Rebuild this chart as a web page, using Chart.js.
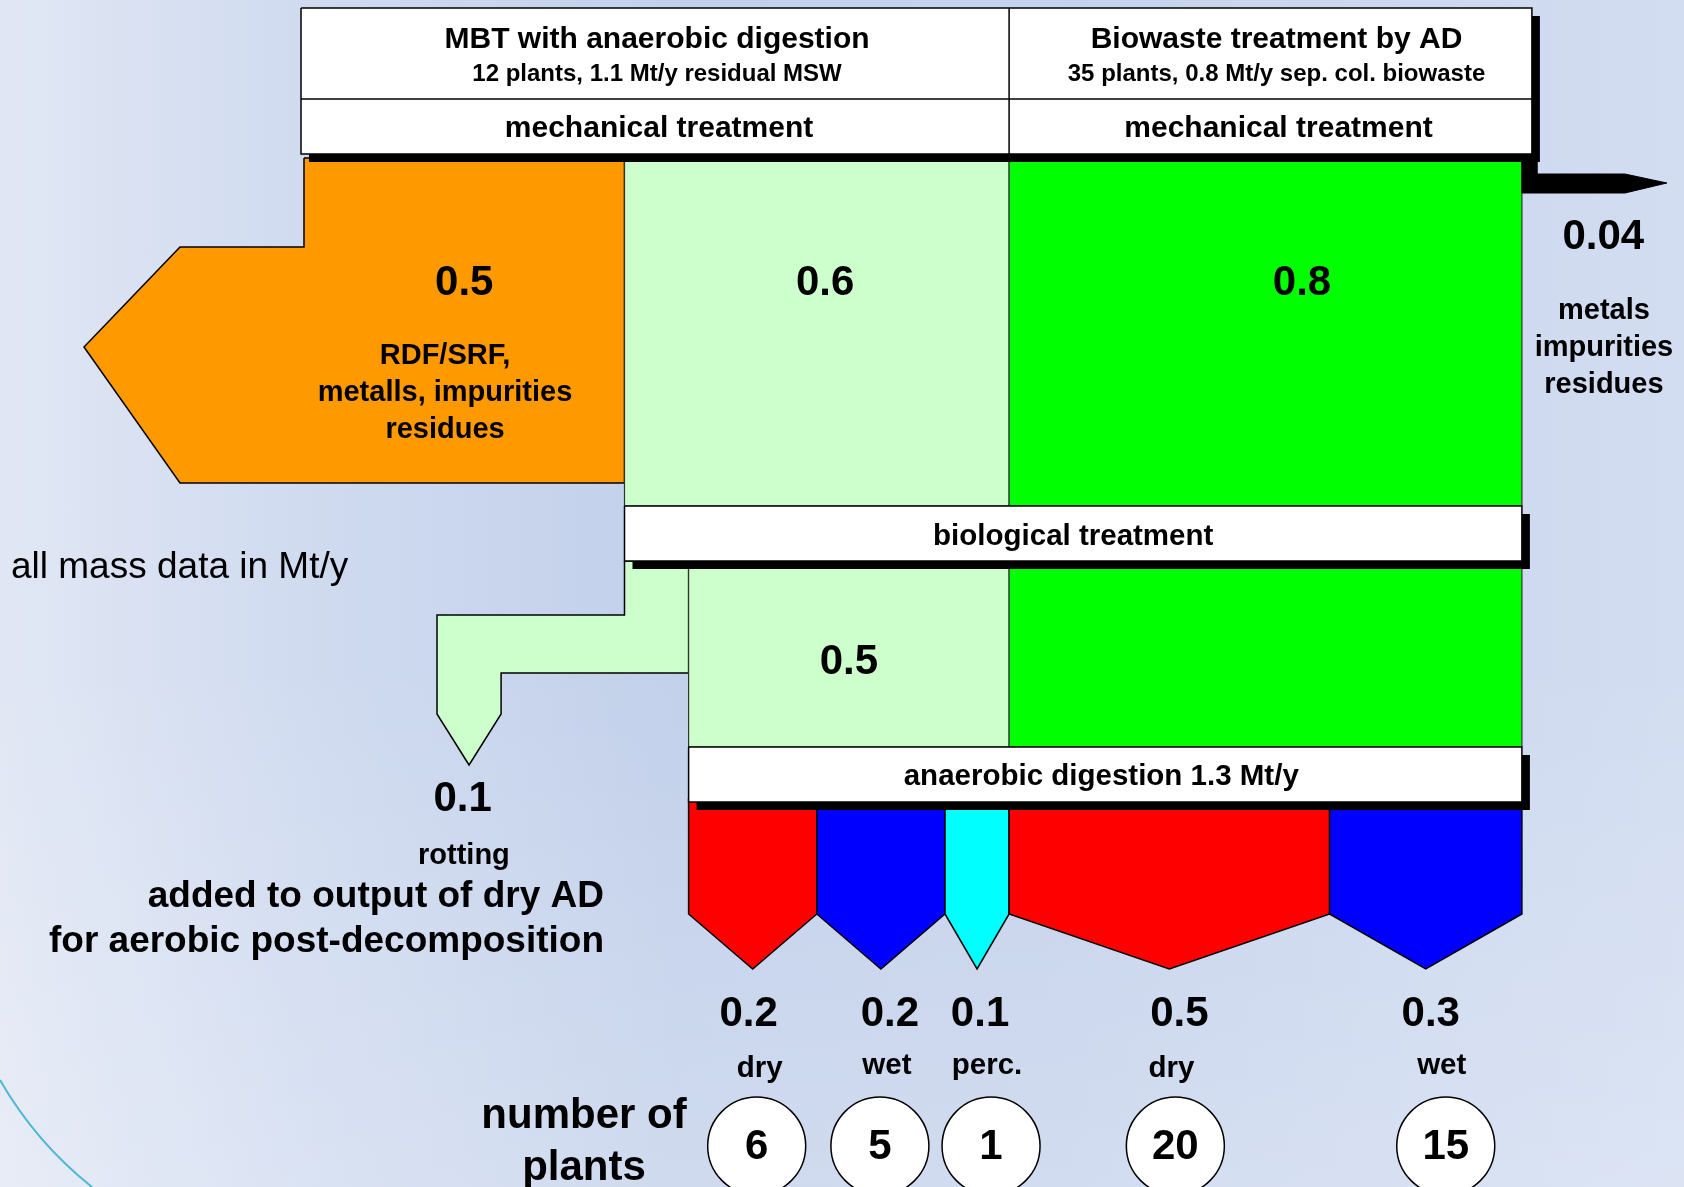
<!DOCTYPE html>
<html>
<head>
<meta charset="utf-8">
<script src="https://cdn.jsdelivr.net/npm/chart.js@4.4.1/dist/chart.umd.min.js"></script>
<style>
  html, body { margin: 0; padding: 0; width: 1684px; height: 1187px; overflow: hidden; }
  body {
    background:
      linear-gradient(180deg, rgba(255,255,255,0) 55%, rgba(255,255,255,0.22) 100%),
      linear-gradient(90deg, #e1e7f4 0%, #d0dbf0 18%, #c2d0ea 40%, #c5d2ec 62%, #d2ddf1 100%);
  }
  #arc { position: absolute; left: 0; top: 0; }
  #chart { position: absolute; left: 0; top: 0; }
</style>
</head>
<body>
<svg id="arc" width="1684" height="1187">
  <path d="M0,1080 A376,376 0 0,0 92,1187" stroke="#4cb8d5" stroke-width="2" fill="none"/>
</svg>
<canvas id="chart" width="1684" height="1187"></canvas>
<script>
// all mass data in Mt/y
const columnTitles = ["MBT with anaerobic digestion", "Biowaste treatment by AD"];
const columnSubtitles = ["12 plants, 1.1 Mt/y residual MSW", "35 plants, 0.8 Mt/y sep. col. biowaste"];
const columnInputs = [1.1, 0.8];
const mechOutputs = [0.5, 0.04];      // split off at mechanical treatment
const bioInputs = [0.6, 0.8];         // into biological treatment
const rottingOutput = [0.1];          // MBT share sent to rotting
const adInputs = [0.5, 0.8];          // into anaerobic digestion
const adTotal = [1.3];
const outputTypes = ["dry", "wet", "perc.", "dry", "wet"];
const outputValues = [0.2, 0.2, 0.1, 0.5, 0.3];
const plantCounts = [6, 5, 1, 20, 15];

// layout: x axis runs in Mt/y, y axis in diagram units (top = 0)
const W = 1684, H = 1187;
const PX_PER_MT = 641, ORIGIN_PX = 304;
const mt = (px) => px / PX_PER_MT;          // pixel length -> Mt units
const ROW = {
  headTop: 8, headMid: 99, headBottom: 154,
  flowTop: 158, orangeTop: 247, orangeTip: 347, orangeBottom: 483,
  bioTop: 506, bioBottom: 561,
  branchTop: 615, branchBottom: 673, branchShoulder: 714, branchTip: 765,
  adTop: 747, adBottom: 802,
  outShoulder: 914, outTip: 969,
  arrowTop: 174, arrowMid: 183, arrowBottom: 193,
  bubble: 1146,
};
const SHADOW = 8;
const FONT = "'Liberation Sans', Arial, sans-serif";
const outputColors = ["#ff0000", "#0000ff", "#00ffff", "#ff0000", "#0000ff"];
// small horizontal nudges (px) of the labels under each output stream
const valueNudge = [-4, 9, 3, 10, 5];
const typeNudge = [7, 6, 10, 2, 16];
const bubbleNudge = [4, -1, 14, 6, 20];

const mbtEnd = columnInputs[0];
const totalEnd = columnInputs[0] + columnInputs[1];
const orangeEnd = mechOutputs[0];
const branchEnd = orangeEnd + rottingOutput[0];
const adStart = branchEnd;
const adEnd = adStart + adTotal[0];
const headLeft = -mt(3), headRight = totalEnd + mt(10);
const orangeHead = -mt(124), orangeTipX = -mt(220);
const branchLeft = mt(133);

function poly(points, fill, border, width, extra) {
  const closed = points.concat([points[0]]);
  return Object.assign({
    data: closed.map(([x, y]) => ({ x, y })),
    fill: fill ? "shape" : false,
    backgroundColor: fill || "transparent",
    borderColor: border || "rgba(0,0,0,0)",
    borderWidth: width === undefined ? 1.5 : width,
    pointRadius: 0,
    tension: 0,
  }, extra || {});
}
function rect(x0, x1, y0, y1, fill, border, width) {
  return poly([[x0, y0], [x1, y0], [x1, y1], [x0, y1]], fill, border, width);
}
function segment(x0, y0, x1, y1) {
  return { data: [{ x: x0, y: y0 }, { x: x1, y: y1 }], borderColor: "#000", borderWidth: 1.5, pointRadius: 0, fill: false };
}

// output streams, cumulative along the AD bar
const outEdges = [adStart];
outputValues.forEach((v) => outEdges.push(outEdges[outEdges.length - 1] + v));
const outCenters = outputValues.map((v, i) => (outEdges[i] + outEdges[i + 1]) / 2);

const shapes = [];
// mechanical stage
shapes.push(poly([[0, ROW.flowTop], [orangeEnd, ROW.flowTop], [orangeEnd, ROW.orangeBottom],
  [orangeHead, ROW.orangeBottom], [orangeTipX, ROW.orangeTip], [orangeHead, ROW.orangeTop],
  [0, ROW.orangeTop]], "#ff9900", "#000", 1.5));
shapes.push(rect(orangeEnd, mbtEnd, ROW.flowTop, ROW.bioTop, "#ccffcc", "#333", 1.2));
shapes.push(rect(mbtEnd, totalEnd, ROW.flowTop, ROW.bioTop, "#00ff00", "#333", 1.2));
shapes.push(poly([[totalEnd, ROW.flowTop], [totalEnd + mt(15), ROW.flowTop], [totalEnd + mt(15), ROW.arrowTop],
  [totalEnd + mt(103), ROW.arrowTop], [totalEnd + mt(145), ROW.arrowMid], [totalEnd + mt(103), ROW.arrowBottom],
  [totalEnd, ROW.arrowBottom]], "#000", "#000", 1));
// biological stage
shapes.push(poly([[orangeEnd, ROW.bioBottom], [branchEnd, ROW.bioBottom], [branchEnd, ROW.branchBottom],
  [branchLeft + rottingOutput[0], ROW.branchBottom], [branchLeft + rottingOutput[0], ROW.branchShoulder],
  [branchLeft + rottingOutput[0] / 2, ROW.branchTip], [branchLeft, ROW.branchShoulder],
  [branchLeft, ROW.branchTop], [orangeEnd, ROW.branchTop]], "#ccffcc", "#000", 1.5));
shapes.push(rect(branchEnd, branchEnd + adInputs[0], ROW.bioBottom, ROW.adTop, "#ccffcc", "#333", 1.2));
shapes.push(rect(mbtEnd, mbtEnd + adInputs[1], ROW.bioBottom, ROW.adTop, "#00ff00", "#333", 1.2));
// digestion outputs
outputValues.forEach((v, i) => {
  const x0 = outEdges[i], x1 = outEdges[i + 1];
  shapes.push(poly([[x0, ROW.adBottom - 4], [x1, ROW.adBottom - 4], [x1, ROW.outShoulder],
    [outCenters[i], ROW.outTip], [x0, ROW.outShoulder]], outputColors[i], "#000", 1.5));
});
// process boxes with drop shadows
function box(x0, x1, y0, y1) {
  shapes.push(rect(x0 + mt(SHADOW), x1 + mt(SHADOW), y0 + SHADOW, y1 + SHADOW, "#000", "#000", 0));
  shapes.push(rect(x0, x1, y0, y1, "#ffffff", "#000", 1.5));
}
box(headLeft, headRight, ROW.headTop, ROW.headBottom);
shapes.push(segment(headLeft, ROW.headMid, headRight, ROW.headMid));
shapes.push(segment(mbtEnd, ROW.headTop, mbtEnd, ROW.headBottom));
box(orangeEnd, totalEnd, ROW.bioTop, ROW.bioBottom);
box(adStart, adEnd, ROW.adTop, ROW.adBottom);
// plant count bubbles
const bubbleX = outCenters.map((x, i) => x + mt(bubbleNudge[i]));
shapes.push({
  data: bubbleX.map((x) => ({ x, y: ROW.bubble })),
  showLine: false, pointRadius: 49, pointBackgroundColor: "#fff",
  pointBorderColor: "#000", pointBorderWidth: 1.5, clip: false,
});
shapes.forEach((d, i) => { d.order = shapes.length - i; });

const headCenters = [(headLeft + mbtEnd) / 2, (mbtEnd + headRight) / 2];
const texts = [];
const T = (text, x, y, size, opts) => texts.push(Object.assign({ text, x, y, size, bold: true, align: "center" }, opts || {}));
columnTitles.forEach((t, i) => T(t, headCenters[i] + mt(2 + 4 * i), 40, 30));
columnSubtitles.forEach((t, i) => T(t, headCenters[i] + mt(2 + 4 * i), 74, 24));
headCenters.forEach((x, i) => T("mechanical treatment", x + mt(4 + 4 * i), 129, 30));
T(String(mechOutputs[0]), orangeEnd / 2, 283, 42);
["RDF/SRF,", "metalls, impurities", "residues"].forEach((t, i) => T(t, orangeEnd / 2 - 0.03, 356 + i * 37, 29));
T(String(bioInputs[0]), (orangeEnd + mbtEnd) / 2 + 0.013, 283, 42);
T(String(bioInputs[1]), mbtEnd + 0.457, 283, 42);
T(String(mechOutputs[1]), totalEnd + 0.127, 237, 42);
["metals", "impurities", "residues"].forEach((t, i) => T(t, totalEnd + 0.128, 311 + i * 37, 29));
T("biological treatment", (orangeEnd + totalEnd) / 2, 537, 29.5);
T(String(adInputs[0]), branchEnd + adInputs[0] / 2, 662, 42);
T("anaerobic digestion " + adTotal[0] + " Mt/y", (adStart + adEnd) / 2 - mt(4), 777, 29.5);
T("all mass data in Mt/y", -mt(293), 568, 37, { bold: false, align: "left" });
T(String(rottingOutput[0]), branchLeft + rottingOutput[0] / 2 - 0.01, 799, 42);
T("rotting", branchLeft + rottingOutput[0] / 2 - 0.008, 856, 29);
T("added to output of dry AD", mt(300), 897, 37, { align: "right" });
T("for aerobic post-decomposition", mt(300), 942, 37, { align: "right" });
outputValues.forEach((v, i) => T(String(v), outCenters[i] + mt(valueNudge[i]), 1014, 42));
outputTypes.forEach((t, i) => T(t, outCenters[i] + mt(typeNudge[i]), t === "dry" ? 1069 : 1066, 29.5));
plantCounts.forEach((n, i) => T(String(n), bubbleX[i], 1147, 42));
T("number of", mt(280), 1116, 42);
T("plants", mt(280), 1168, 42);

const labelPlugin = {
  id: "diagramLabels",
  afterDatasetsDraw(chart) {
    const { ctx, scales } = chart;
    ctx.save();
    ctx.fillStyle = "#000";
    ctx.textBaseline = "middle";
    for (const t of texts) {
      ctx.font = (t.bold ? "bold " : "") + t.size + "px " + FONT;
      ctx.textAlign = t.align;
      ctx.fillText(t.text, scales.x.getPixelForValue(t.x), scales.y.getPixelForValue(t.y));
    }
    ctx.restore();
  },
};

new Chart(document.getElementById("chart"), {
  type: "line",
  data: { datasets: shapes },
  options: {
    responsive: false,
    animation: false,
    events: [],
    layout: { padding: 0, autoPadding: false },
    plugins: { legend: { display: false }, tooltip: { enabled: false } },
    scales: {
      x: { type: "linear", display: false, min: -ORIGIN_PX / PX_PER_MT, max: (W - ORIGIN_PX) / PX_PER_MT },
      y: { type: "linear", display: false, min: 0, max: H, reverse: true },
    },
  },
  plugins: [labelPlugin],
});
</script>
</body>
</html>
